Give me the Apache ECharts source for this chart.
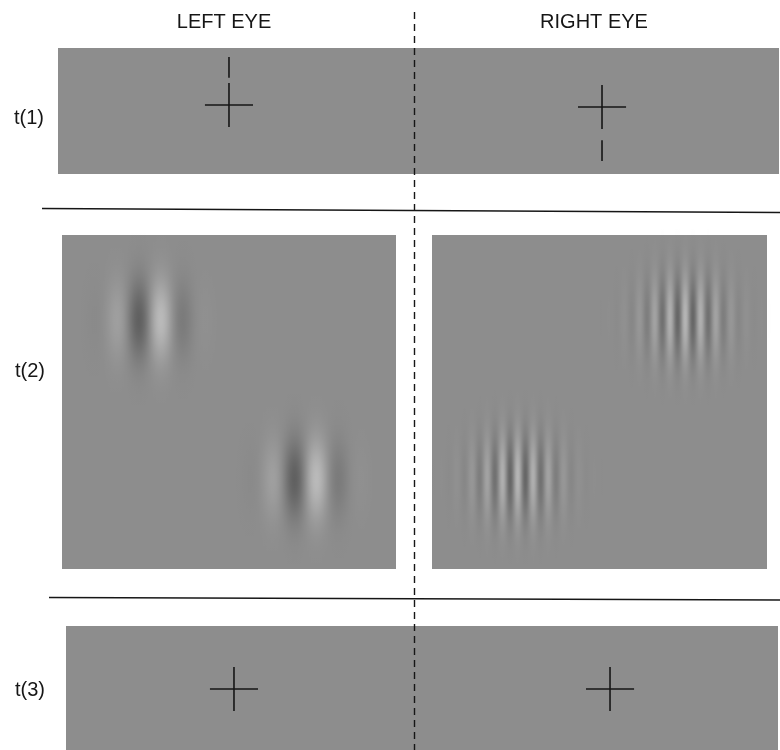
<!DOCTYPE html>
<html>
<head>
<meta charset="utf-8">
<script src="https://cdn.jsdelivr.net/npm/echarts@6/dist/echarts.min.js"></script>
<style>
  html, body { margin: 0; padding: 0; background: #ffffff; }
  #chart { width: 780px; height: 750px; }
</style>
</head>
<body>
<div id="chart"></div>
<script>
// ---- Labels ----
const eyeLabels = ['LEFT EYE', 'RIGHT EYE'];
const frameLabels = ['t(1)', 't(2)', 't(3)'];

// ---- Stimulus content, in degrees relative to the centre of each eye's field ----
// Line segments: [x1, y1, x2, y2]
const t1LeftSegments  = [[-0.72, 0, 0.72, 0], [0, -0.66, 0, 0.66], [0, 0.82, 0, 1.44]];
const t1RightSegments = [[-0.72, 0, 0.72, 0], [0, -0.66, 0, 0.66], [0, -1.0, 0, -1.62]];
const t3LeftSegments  = [[-0.72, 0, 0.72, 0], [0, -0.66, 0, 0.66]];
const t3RightSegments = [[-0.72, 0, 0.72, 0], [0, -0.66, 0, 0.66]];

// Gabor patches: [cx, cy, wavelength, sigmaX, sigmaY, amplitude (grey levels), phase (deg)]
const t2LeftGabors  = [[-2.37, 2.46, 1.44, 0.72, 0.84, 50, -90], [2.29, -2.31, 1.44, 0.72, 0.84, 50, -90]];
const t2RightGabors = [[2.56, 2.51, 0.46, 0.82, 0.86, 40, 0], [-2.44, -2.25, 0.46, 0.82, 0.86, 40, 0]];

// Visible field of each panel (degrees)
const viewX = [[-5.12, 5.54], [-5.63, 5.30], [-5, 5], [-5, 5], [-5.03, 5.39], [-5.87, 5.03]];
const viewY = [[-2.07, 1.71], [-2.01, 1.77], [-5, 5], [-5, 5], [-1.83, 1.89], [-1.83, 1.89]];

// ---- Layout (pixels) ----
const boxes = [
  [58, 48, 356, 126], [414, 48, 365, 126],
  [62, 235, 334, 334], [432, 235, 335, 334],
  [66, 626, 348, 124], [414, 626, 364, 124]
];
const BG = 141;
const bgColor = 'rgb(' + BG + ',' + BG + ',' + BG + ')';
const ink = '#161616';
const font = '"Liberation Sans", Arial, sans-serif';

const chart = echarts.init(document.getElementById('chart'), null, { renderer: 'canvas' });

const grids = boxes.map(b => ({
  left: b[0], top: b[1], width: b[2], height: b[3],
  show: true, backgroundColor: bgColor, borderWidth: 0, containLabel: false
}));
const xAxes = viewX.map((r, i) => ({ type: 'value', gridIndex: i, min: r[0], max: r[1], show: false }));
const yAxes = viewY.map((r, i) => ({ type: 'value', gridIndex: i, min: r[0], max: r[1], show: false }));

function segmentSeries(data, idx) {
  return {
    type: 'custom', xAxisIndex: idx, yAxisIndex: idx, silent: true,
    encode: { x: [0, 2], y: [1, 3] },
    data: data,
    renderItem: function (params, api) {
      const p1 = api.coord([api.value(0), api.value(1)]);
      const p2 = api.coord([api.value(2), api.value(3)]);
      return {
        type: 'line',
        shape: { x1: p1[0], y1: p1[1], x2: p2[0], y2: p2[1] },
        style: { stroke: ink, lineWidth: 1.6 }
      };
    }
  };
}

// Each Gabor is drawn as one-pixel columns; each column carries the carrier
// value times the horizontal envelope, with a vertical Gaussian gradient.
function gaborSeries(data, idx) {
  return {
    type: 'custom', xAxisIndex: idx, yAxisIndex: idx, silent: true,
    encode: { x: 0, y: 1 },
    data: data,
    renderItem: function (params, api) {
      const cx = api.value(0), cy = api.value(1);
      const lambda = api.value(2), sx = api.value(3), sy = api.value(4);
      const amp = api.value(5), phase = api.value(6) * Math.PI / 180;
      const c = api.coord([cx, cy]);
      const scale = api.size([1, 1]);
      const halfW = Math.ceil(3.2 * sx * scale[0]);
      const halfH = 3.2 * sy * scale[1];
      const x0 = Math.round(c[0]);
      const children = [];
      const N = 32;
      for (let k = -halfW; k <= halfW; k++) {
        const xd = (k + 0.5 + x0 - c[0]) / scale[0];
        const g = amp * Math.exp(-xd * xd / (2 * sx * sx)) * Math.cos(2 * Math.PI * xd / lambda + phase);
        if (Math.abs(g) < 0.3) continue;
        const light = g > 0;
        const a0 = light ? g / (255 - BG) : -g / BG;
        const rgb = light ? '255,255,255' : '0,0,0';
        const stops = [];
        for (let j = 0; j <= N; j++) {
          const t = j / N;
          const yd = (t - 0.5) * 2 * halfH / scale[1];
          const a = a0 * Math.exp(-yd * yd / (2 * sy * sy));
          stops.push({ offset: t, color: 'rgba(' + rgb + ',' + a.toFixed(4) + ')' });
        }
        children.push({
          type: 'rect',
          shape: { x: x0 + k, y: c[1] - halfH, width: 1, height: 2 * halfH },
          style: {
            fill: { type: 'linear', x: 0, y: 0, x2: 0, y2: 1, colorStops: stops }
          }
        });
      }
      return { type: 'group', children: children };
    }
  };
}

const series = [
  segmentSeries(t1LeftSegments, 0),
  segmentSeries(t1RightSegments, 1),
  gaborSeries(t2LeftGabors, 2),
  gaborSeries(t2RightGabors, 3),
  segmentSeries(t3LeftSegments, 4),
  segmentSeries(t3RightSegments, 5)
];

// Titles, frame labels, separators and the vertical divider between the eyes
const eyeLabelPos = [[224, 22], [594, 22]];
const frameLabelPos = [[29, 118], [30, 371], [30, 690]];
const graphics = [];
eyeLabels.forEach((t, i) => graphics.push({
  type: 'text', x: eyeLabelPos[i][0], y: eyeLabelPos[i][1], z: 10,
  style: { text: t, fill: ink, font: '20px ' + font, textAlign: 'center', textVerticalAlign: 'middle' }
}));
frameLabels.forEach((t, i) => graphics.push({
  type: 'text', x: frameLabelPos[i][0], y: frameLabelPos[i][1], z: 10,
  style: { text: t, fill: ink, font: '20px ' + font, textAlign: 'center', textVerticalAlign: 'middle' }
}));
graphics.push({
  type: 'line', z: 10, shape: { x1: 42, y1: 208.5, x2: 780, y2: 212.5 },
  style: { stroke: ink, lineWidth: 1.6 }
});
graphics.push({
  type: 'line', z: 10, shape: { x1: 49, y1: 597.5, x2: 780, y2: 600 },
  style: { stroke: ink, lineWidth: 1.6 }
});
graphics.push({
  type: 'line', z: 10, shape: { x1: 414.5, y1: 12, x2: 414.5, y2: 750 },
  style: { stroke: ink, lineWidth: 1.4, lineDash: [7, 5] }
});

chart.setOption({
  animation: false,
  backgroundColor: '#ffffff',
  grid: grids,
  xAxis: xAxes,
  yAxis: yAxes,
  series: series,
  graphic: { elements: graphics }
});
</script>
</body>
</html>
